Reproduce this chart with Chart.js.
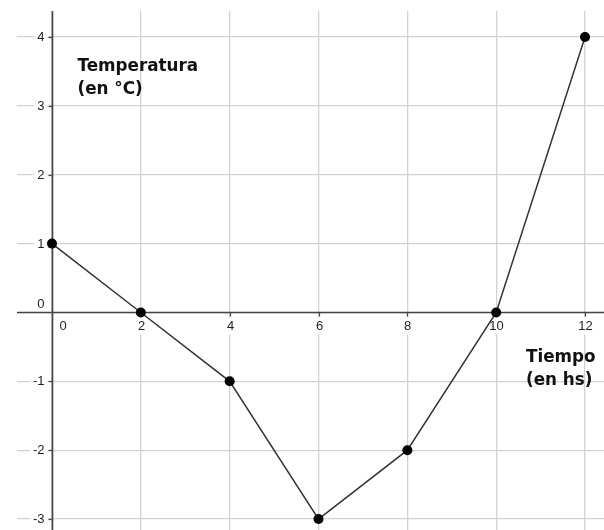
<!DOCTYPE html>
<html>
<head>
<meta charset="utf-8">
<script src="https://cdn.jsdelivr.net/npm/chart.js@4/dist/chart.umd.min.js"></script>
<style>
  html, body { margin: 0; padding: 0; background: #fff; overflow: hidden; }
  canvas { display: block; }
</style>
</head>
<body>
<canvas id="c" width="604" height="530"></canvas>
<script>
// Temperature over time
const hours = [0, 2, 4, 6, 8, 10, 12];
const temps = [1, 0, -1, -3, -2, 0, 4];

// Axis ticks and titles
const xTicks = [0, 2, 4, 6, 8, 10, 12];
const yTicks = [-3, -2, -1, 0, 1, 2, 3, 4];
const yTitle = ['Temperatura', '(en °C)'];
const xTitle = ['Tiempo', '(en hs)'];

const points = hours.map((h, i) => ({ x: h, y: temps[i] }));

// Draws the coordinate axes through the origin, their tick marks,
// the tick labels on white backing, and the two axis titles.
const axesPlugin = {
  id: 'axesThroughOrigin',
  beforeDatasetsDraw(chart) {
    const { ctx, chartArea: a, scales: { x, y } } = chart;
    const x0 = Math.round(x.getPixelForValue(0)) + 0.5;
    const y0 = Math.round(y.getPixelForValue(0)) + 0.5;
    ctx.save();

    // axis lines
    ctx.strokeStyle = '#444';
    ctx.lineWidth = 1.6;
    ctx.beginPath();
    ctx.moveTo(a.left, y0); ctx.lineTo(a.right, y0);
    ctx.moveTo(x0, a.top); ctx.lineTo(x0, a.bottom);
    ctx.stroke();

    ctx.font = '13px "Liberation Sans", Arial, sans-serif';
    ctx.fillStyle = '#1e1e1e';
    ctx.textBaseline = 'middle';

    // x ticks and labels
    xTicks.forEach(v => {
      const px = Math.round(x.getPixelForValue(v)) + 0.5;
      const label = String(v);
      if (v === 0) {
        ctx.textAlign = 'left';
        ctx.fillText(label, px + 7, y0 + 14);
        return;
      }
      const w = ctx.measureText(label).width;
      ctx.fillStyle = '#fff';
      ctx.fillRect(px - w / 2 - 2, y0 + 5, w + 4, 17);
      ctx.strokeStyle = '#444';
      ctx.lineWidth = 1.2;
      ctx.beginPath();
      ctx.moveTo(px, y0); ctx.lineTo(px, y0 + 4);
      ctx.stroke();
      ctx.fillStyle = '#1e1e1e';
      ctx.textAlign = 'center';
      ctx.fillText(label, px, y0 + 14);
    });

    // y ticks and labels
    yTicks.forEach(v => {
      const py = Math.round(y.getPixelForValue(v)) + 0.5;
      const label = String(v);
      ctx.textAlign = 'right';
      if (v === 0) {
        ctx.fillStyle = '#1e1e1e';
        ctx.fillText(label, x0 - 8, py - 8);
        return;
      }
      const w = ctx.measureText(label).width;
      ctx.fillStyle = '#fff';
      ctx.fillRect(x0 - 8 - w - 3, py - 7, w + 6, 14);
      ctx.strokeStyle = '#444';
      ctx.lineWidth = 1.2;
      ctx.beginPath();
      ctx.moveTo(x0 - 4, py); ctx.lineTo(x0, py);
      ctx.stroke();
      ctx.fillStyle = '#1e1e1e';
      ctx.fillText(label, x0 - 8, py);
    });

    // axis titles
    ctx.font = 'bold 16.8px "DejaVu Sans", Verdana, sans-serif';
    ctx.fillStyle = '#111';
    ctx.textAlign = 'left';
    ctx.textBaseline = 'alphabetic';
    ctx.fillText(yTitle[0], x0 + 25, 71);
    ctx.fillText(yTitle[1], x0 + 25, 94);
    ctx.fillText(xTitle[0], 526, 362);
    ctx.fillText(xTitle[1], 526, 385);

    ctx.restore();
  }
};

new Chart(document.getElementById('c'), {
  type: 'scatter',
  data: {
    datasets: [{
      data: points,
      showLine: true,
      borderColor: '#333',
      borderWidth: 1.5,
      backgroundColor: '#000',
      pointBackgroundColor: '#000',
      pointBorderColor: '#000',
      pointRadius: 5,
      pointBorderWidth: 0,
      tension: 0
    }]
  },
  options: {
    responsive: false,
    animation: false,
    devicePixelRatio: 1,
    layout: { autoPadding: false, padding: { left: 17, top: 11, right: 0, bottom: 0 } },
    plugins: { legend: { display: false }, tooltip: { enabled: false } },
    scales: {
      x: {
        type: 'linear',
        min: -0.788,
        max: 12.427,
        afterBuildTicks: s => { s.ticks = xTicks.map(v => ({ value: v })); },
        ticks: { display: false },
        grid: { color: '#d2d2d2', lineWidth: 1.3, drawTicks: false },
        border: { display: false }
      },
      y: {
        type: 'linear',
        min: -3.159,
        max: 4.378,
        afterBuildTicks: s => { s.ticks = yTicks.map(v => ({ value: v })); },
        ticks: { display: false },
        grid: { color: '#d2d2d2', lineWidth: 1.3, drawTicks: false },
        border: { display: false }
      }
    }
  },
  plugins: [axesPlugin]
});
</script>
</body>
</html>
